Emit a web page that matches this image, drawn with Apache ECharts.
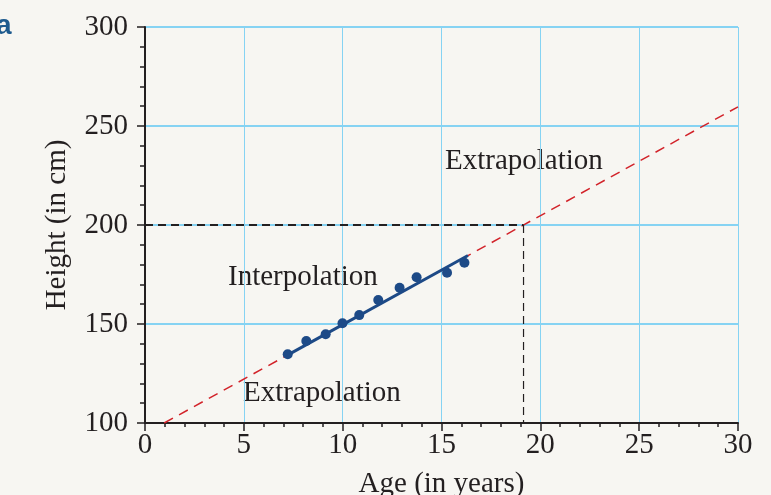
<!DOCTYPE html>
<html>
<head>
<meta charset="utf-8">
<script src="https://cdn.jsdelivr.net/npm/echarts@6/dist/echarts.min.js"></script>
<style>
  html, body { margin: 0; padding: 0; background: #f7f6f2; }
  #chart { width: 771px; height: 495px; }
</style>
</head>
<body>
<div id="chart"></div>
<script>
// measured points (age in years, height in cm)
const ages = [7.22, 8.16, 9.14, 9.99, 10.84, 11.8, 12.88, 13.74, 15.28, 16.16]
const heights = [134.7, 141.4, 144.8, 150.4, 154.5, 162.1, 168.3, 173.6, 175.9, 180.9]

// fitted line over the measured range
const fitAges = [7.23, 16.34]
const fitHeights = [134.4, 184.6]

// same line extended beyond the data
const extraAges = [0.97, 30]
const extraHeights = [100, 259.7]

// reading off 200 cm
const readAge = 19.15
const readHeight = 200

const xTicks = [0, 30, 5]
const yTicks = [100, 300, 50]

const serif = '"Liberation Serif", "DejaVu Serif", serif'
const ink = '#231f20'
const gridBlue = '#86d3f3'
const dotBlue = '#1d4a87'

const chart = echarts.init(document.getElementById('chart'))

chart.setOption({
  backgroundColor: '#f7f6f2',
  animation: false,
  grid: { left: 145, right: 33, top: 27, bottom: 72, containLabel: false, outerBoundsMode: 'none' },
  xAxis: {
    type: 'value',
    min: xTicks[0],
    max: xTicks[1],
    interval: xTicks[2],
    name: 'Age (in years)',
    nameLocation: 'middle',
    nameGap: 47,
    nameTextStyle: { fontFamily: serif, fontSize: 29, color: ink },
    axisLine: { lineStyle: { color: ink, width: 2 } },
    axisTick: { length: 8, lineStyle: { color: ink, width: 1.5 } },
    minorTick: { show: true, splitNumber: 5, length: 4, lineStyle: { color: ink, width: 1.5 } },
    axisLabel: { fontFamily: serif, fontSize: 29, color: ink, margin: 8 },
    splitLine: { show: true, lineStyle: { color: gridBlue, width: 1 } },
  },
  yAxis: {
    type: 'value',
    min: yTicks[0],
    max: yTicks[1],
    interval: yTicks[2],
    name: 'Height (in cm)',
    nameLocation: 'middle',
    nameGap: 73,
    nameTextStyle: { fontFamily: serif, fontSize: 29, color: ink },
    axisLine: { show: true, lineStyle: { color: ink, width: 2 } },
    axisTick: { show: true, length: 8, lineStyle: { color: ink, width: 1.5 } },
    minorTick: { show: true, splitNumber: 5, length: 5, lineStyle: { color: ink, width: 1.5 } },
    axisLabel: { fontFamily: serif, fontSize: 29, color: ink, margin: 17 },
    splitLine: { show: true, lineStyle: { color: gridBlue, width: 2 } },
  },
  series: [
    {
      name: 'extrapolation',
      type: 'line',
      data: extraAges.map((a, i) => [a, extraHeights[i]]),
      symbol: 'none',
      lineStyle: { color: '#d2232a', width: 1.5, type: [10, 7] },
      z: 2,
    },
    {
      name: 'read-across',
      type: 'line',
      data: [[xTicks[0], readHeight], [readAge, readHeight]],
      symbol: 'none',
      lineStyle: { color: ink, width: 2, type: [8, 5] },
      z: 2,
    },
    {
      name: 'read-down',
      type: 'line',
      data: [[readAge, readHeight], [readAge, yTicks[0]]],
      symbol: 'none',
      lineStyle: { color: ink, width: 1.2, type: [8, 5] },
      z: 2,
    },
    {
      name: 'fit',
      type: 'line',
      data: fitAges.map((a, i) => [a, fitHeights[i]]),
      symbol: 'none',
      lineStyle: { color: dotBlue, width: 3 },
      z: 3,
    },
    {
      name: 'points',
      type: 'scatter',
      data: ages.map((a, i) => [a, heights[i]]),
      symbolSize: 10,
      itemStyle: { color: dotBlue, opacity: 1 },
      z: 4,
    },
  ],
  graphic: [
    { type: 'text', left: -4, top: 12, style: { text: 'a', font: 'bold 28px "Liberation Sans", sans-serif', fill: '#1d5a8e' } },
    { type: 'text', x: 445, y: 161, style: { text: 'Extrapolation', font: '29px ' + serif, fill: ink, verticalAlign: 'middle' } },
    { type: 'text', x: 228, y: 277, style: { text: 'Interpolation', font: '29px ' + serif, fill: ink, verticalAlign: 'middle' } },
    { type: 'text', x: 243, y: 393, style: { text: 'Extrapolation', font: '29px ' + serif, fill: ink, verticalAlign: 'middle' } },
  ],
})
</script>
</body>
</html>
